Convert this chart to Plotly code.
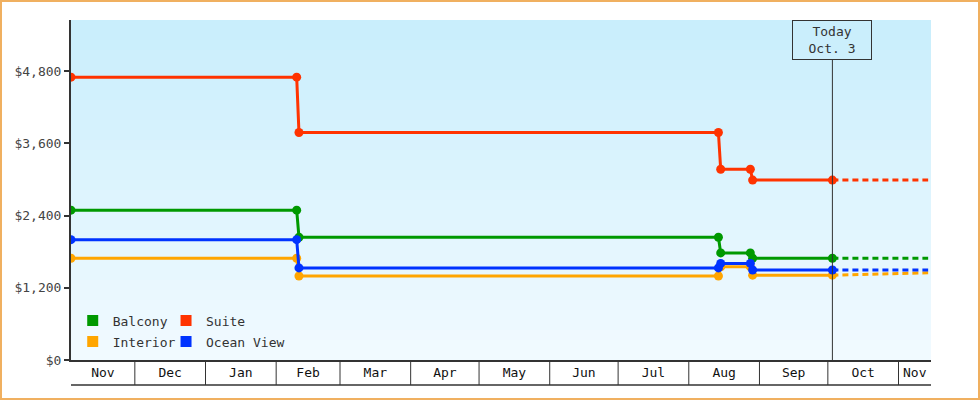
import pandas as pd
import plotly.graph_objects as go

# price history (step changes)
dates = ["2014-11-03", "2015-02-10", "2015-02-11", "2015-08-14", "2015-08-15",
         "2015-08-28", "2015-08-29", "2015-10-03"]
balcony = [2490, 2490, 2040, 2040, 1780, 1780, 1690, 1690]
suite = [4700, 4700, 3780, 3780, 3170, 3170, 2990, 2990]
interior = [1690, 1690, 1395, 1395, 1550, 1550, 1410, 1410]
ocean_view = [2000, 2000, 1530, 1530, 1605, 1605, 1495, 1495]

# projection after today
proj_dates = ["2015-10-03", "2015-11-14"]
proj_balcony = [1690, 1690]
proj_suite = [2990, 2990]
proj_interior = [1410, 1450]
proj_ocean_view = [1495, 1495]

today = "2015-10-03"
x_start, x_end = "2014-11-03", "2015-11-15 06:00"
month_starts = ["2014-11-01", "2014-12-01", "2015-01-01", "2015-02-01", "2015-03-01",
                "2015-04-01", "2015-05-01", "2015-06-01", "2015-07-01", "2015-08-01",
                "2015-09-01", "2015-10-01", "2015-11-01", "2015-12-01"]
month_labels = ["Nov", "Dec", "Jan", "Feb", "Mar", "Apr", "May", "Jun", "Jul",
                "Aug", "Sep", "Oct", "Nov"]
y_ticks = [0, 1200, 2400, 3600, 4800]
y_labels = ["$" + f"{v:,}" for v in y_ticks]

# name, values, projection, colour, legend column
series = [
    ("Balcony", balcony, proj_balcony, "#009900", "legend"),
    ("Suite", suite, proj_suite, "#ff3300", "legend2"),
    ("Interior", interior, proj_interior, "#ffa500", "legend"),
    ("Ocean View", ocean_view, proj_ocean_view, "#0033ff", "legend2"),
]

FONT = "DejaVu Sans Mono"
DARK = "#333333"
PLOT_H = 340

fig = go.Figure()

for name, vals, proj, col, lg in series:
    fig.add_trace(go.Scatter(x=proj_dates, y=proj, mode="lines", showlegend=False,
                             line=dict(color=col, width=3, dash="6px,4px"), hoverinfo="skip"))
for name, vals, proj, col, lg in series:
    fig.add_trace(go.Scatter(x=dates, y=vals, mode="lines+markers", name=name, showlegend=False,
                             line=dict(color=col, width=3),
                             marker=dict(symbol="circle", size=9, color=col)))
# legend swatches (two columns -> two legends)
for name, vals, proj, col, lg in series:
    fig.add_trace(go.Scatter(x=[None], y=[None], mode="markers", name=name, legend=lg,
                             legendgroup=name,
                             marker=dict(symbol="square", size=11, color=col)))

# month labels centred in visible part of each month
t0, t1 = pd.Timestamp(x_start), pd.Timestamp(x_end)
mids = []
for i in range(len(month_labels)):
    a = max(pd.Timestamp(month_starts[i]), t0)
    b = min(pd.Timestamp(month_starts[i + 1]), t1)
    mids.append(a + (b - a) / 2)

shapes = []
# vertical gradient background
top_c, bot_c = (201, 238, 252), (241, 250, 255)
n = 34
for i in range(n):
    f = i / (n - 1)
    c = tuple(round(bot_c[k] + (top_c[k] - bot_c[k]) * f) for k in range(3))
    shapes.append(dict(type="rect", xref="paper", yref="paper", x0=0, x1=1,
                       y0=i / n, y1=(i + 1) / n, line_width=0,
                       fillcolor="rgb(%d,%d,%d)" % c, layer="below"))
# month separators in the bottom band
band = 25 / PLOT_H
for m in month_starts:
    tm = pd.Timestamp(m)
    if t0 < tm < t1:
        shapes.append(dict(type="line", xref="x", yref="paper", x0=m, x1=m, y0=0, y1=-band,
                           line=dict(color=DARK, width=1)))
shapes.append(dict(type="line", xref="paper", yref="paper", x0=0, x1=1, y0=-band, y1=-band,
                   line=dict(color=DARK, width=1.5)))
# today marker line
shapes.append(dict(type="line", xref="x", yref="paper", x0=today, x1=today, y0=0,
                   y1=(PLOT_H - 40) / PLOT_H, line=dict(color=DARK, width=1)))
# outer border
shapes.append(dict(type="rect", xref="paper", yref="paper",
                   x0=-70 / 860, x1=908 / 860, y0=-39 / PLOT_H, y1=1 + 19 / PLOT_H,
                   line=dict(color="#f0b060", width=2)))

leg = dict(orientation="v", yanchor="bottom", y=0.01, xanchor="left",
           bgcolor="rgba(0,0,0,0)", font=dict(family=FONT, size=13, color=DARK),
           traceorder="grouped", tracegroupgap=1, itemwidth=30)

fig.update_layout(
    width=980, height=400,
    margin=dict(l=71, r=49, t=20, b=40),
    paper_bgcolor="white", plot_bgcolor="white",
    font=dict(family=FONT, size=13, color=DARK),
    shapes=shapes,
    showlegend=True,
    legend=dict(leg, x=0.002),
    legend2=dict(leg, x=0.1105),
    annotations=[dict(x=today, y=1, xref="x", yref="paper", yanchor="top", xanchor="center",
                      text="Today<br>Oct. 3", showarrow=False, align="center",
                      bordercolor=DARK, borderwidth=1, borderpad=1, width=76, height=36,
                      font=dict(family=FONT, size=13, color=DARK))],
    xaxis=dict(type="date", range=[x_start, x_end], showgrid=False, zeroline=False,
               showline=True, linecolor=DARK, linewidth=1.5,
               tickvals=mids, ticktext=month_labels, ticks="",
               tickfont=dict(family=FONT, size=13, color="#111")),
    yaxis=dict(range=[0, 5650], tickvals=y_ticks, ticktext=y_labels,
               showgrid=False, zeroline=False, showline=True, linecolor=DARK, linewidth=2,
               ticks="outside", ticklen=5, tickwidth=2, tickcolor=DARK,
               tickfont=dict(family=FONT, size=13, color="#444")),
)

fig.write_html("out.html", config={"displayModeBar": False},
               post_script="document.body.style.margin = '0';")
